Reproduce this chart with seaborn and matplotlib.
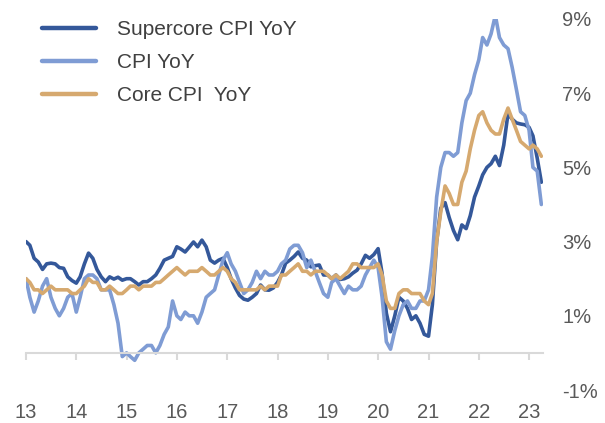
import numpy as np
import pandas as pd
import matplotlib
matplotlib.use('Agg')
import matplotlib.pyplot as plt
import seaborn as sns

# Monthly YoY readings, Feb 2013 .. May 2023
supercore = [3.0, 2.9, 2.55, 2.45, 2.25, 2.4, 2.42, 2.4, 2.3, 2.28, 2.05, 1.95,
             1.88, 2.05, 2.4, 2.69, 2.55, 2.25, 2.05, 1.92, 2.05, 1.99, 2.04, 1.96,
             2.0, 2.0, 1.92, 1.83, 1.92, 1.92, 2.0, 2.1, 2.28, 2.5, 2.55, 2.6,
             2.86, 2.8, 2.72, 2.85, 2.99, 2.86, 3.04, 2.86, 2.5, 2.42, 2.5, 2.55,
             2.3, 2.0, 1.75, 1.55, 1.45, 1.42, 1.5, 1.6, 1.83, 1.7, 1.69, 1.75,
             1.9, 2.1, 2.42, 2.5, 2.6, 2.72, 2.55, 2.5, 2.32, 2.35, 2.37, 2.1,
             2.1, 2.0, 2.1, 1.98, 2.0, 2.05, 2.15, 2.23, 2.4, 2.63, 2.55, 2.65,
             2.81, 2.14, 1.07, 0.57, 1.0, 1.5, 1.4, 1.2, 0.9, 1.0, 0.8, 0.5,
             0.45, 1.3, 3.0, 3.9, 4.05, 3.65, 3.3, 3.05, 3.45, 3.35, 3.7, 4.2,
             4.5, 4.8, 5.0, 5.1, 5.3, 5.05, 5.6, 6.45, 6.3, 6.2, 6.17, 6.15,
             6.08, 5.85, 5.25, 4.6]

cpi = [2.0, 1.5, 1.1, 1.4, 1.8, 2.0, 1.5, 1.2, 1.0, 1.2, 1.5,
       1.6, 1.1, 1.5, 2.0, 2.1, 2.1, 2.0, 1.7, 1.7, 1.7, 1.3, 0.8,
       -0.1, 0.0, -0.1, -0.2, 0.0, 0.1, 0.2, 0.2, 0.0, 0.2, 0.5, 0.7,
       1.4, 1.0, 0.9, 1.1, 1.0, 1.0, 0.8, 1.1, 1.5, 1.6, 1.7, 2.1,
       2.5, 2.7, 2.4, 2.2, 1.9, 1.6, 1.7, 1.9, 2.2, 2.0, 2.2, 2.1,
       2.1, 2.2, 2.4, 2.5, 2.8, 2.9, 2.9, 2.7, 2.3, 2.5, 2.2, 1.9,
       1.6, 1.5, 1.9, 2.0, 1.8, 1.6, 1.8, 1.7, 1.7, 1.8, 2.1, 2.3,
       2.5, 2.3, 1.5, 0.3, 0.1, 0.6, 1.0, 1.3, 1.4, 1.2, 1.2, 1.4,
       1.4, 1.7, 2.6, 4.2, 5.0, 5.4, 5.4, 5.3, 5.4, 6.2, 6.8, 7.0,
       7.5, 7.9, 8.5, 8.3, 8.6, 9.1, 8.5, 8.3, 8.2, 7.7, 7.1, 6.5,
       6.4, 6.0, 5.0, 4.9, 4.0]

core = [2.0, 1.9, 1.7, 1.7, 1.6, 1.7, 1.8, 1.7, 1.7, 1.7, 1.7,
        1.6, 1.6, 1.7, 1.8, 2.0, 1.9, 1.9, 1.7, 1.7, 1.8, 1.7, 1.6,
        1.6, 1.7, 1.8, 1.8, 1.7, 1.8, 1.8, 1.8, 1.9, 1.9, 2.0, 2.1,
        2.2, 2.3, 2.2, 2.1, 2.2, 2.2, 2.2, 2.3, 2.2, 2.1, 2.1, 2.2,
        2.3, 2.2, 2.0, 1.9, 1.7, 1.7, 1.7, 1.7, 1.7, 1.8, 1.7, 1.8,
        1.8, 1.8, 2.1, 2.1, 2.2, 2.3, 2.4, 2.2, 2.2, 2.1, 2.2, 2.2,
        2.2, 2.1, 2.0, 2.1, 2.0, 2.1, 2.2, 2.4, 2.4, 2.3, 2.3, 2.3,
        2.3, 2.4, 2.1, 1.4, 1.2, 1.2, 1.6, 1.7, 1.7, 1.6, 1.6, 1.6,
        1.4, 1.3, 1.6, 3.0, 3.8, 4.5, 4.3, 4.0, 4.0, 4.6, 4.9, 5.5,
        6.0, 6.4, 6.5, 6.2, 6.0, 5.9, 5.9, 6.3, 6.6, 6.3, 6.0, 5.7,
        5.6, 5.5, 5.6, 5.5, 5.3]

series_names = ['Supercore CPI YoY', 'CPI YoY', 'Core CPI  YoY']
colors = ['#34589A', '#7F9CD4', '#D6A96F']
year_labels = ['13', '14', '15', '16', '17', '18', '19', '20', '21', '22', '23']
y_ticks = [-1, 1, 3, 5, 7, 9]

dates = pd.date_range('2013-02-01', periods=len(cpi), freq='MS')
df = pd.concat([
    pd.DataFrame({'date': dates, 'value': vals, 'series': name})
    for name, vals in zip(series_names, [supercore, cpi, core])
])

sns.set_style('white')
plt.rcParams['font.family'] = ['Liberation Sans', 'DejaVu Sans']

fig = plt.figure(figsize=(6.05, 4.23), dpi=100)
ax = fig.add_axes([26 / 605, 1 - 390 / 423, (543 - 26) / 605, (390 - 19) / 423])

sns.lineplot(data=df, x='date', y='value', hue='series', hue_order=series_names,
             palette=dict(zip(series_names, colors)), linewidth=2.6, ax=ax)

ax.set_xlim(dates[0], dates[-1] + pd.Timedelta(days=12))
ax.set_ylim(-1, 9)
ax.set_xlabel('')
ax.set_ylabel('')

# x axis sits at 0%
for s in ['top', 'left', 'right']:
    ax.spines[s].set_visible(False)
ax.spines['bottom'].set_position(('data', 0))
ax.spines['bottom'].set_color('#D9D9D9')
ax.spines['bottom'].set_linewidth(1.5)

tick_dates = pd.date_range('2013-02-01', periods=len(year_labels), freq='12MS')
ax.set_xticks(tick_dates)
ax.set_xticklabels(year_labels)
ax.tick_params(axis='x', bottom=True, direction='out', length=5, width=1.5,
               color='#D9D9D9', pad=31, labelsize=14.5, labelcolor='#595959')

ax.yaxis.tick_right()
ax.set_yticks(y_ticks)
ax.set_yticklabels([f'{v}%' for v in y_ticks])
ax.tick_params(axis='y', length=0, pad=14, labelsize=14.5, labelcolor='#595959')
for lbl in ax.get_yticklabels():
    lbl.set_horizontalalignment('left')

handles, labels = ax.get_legend_handles_labels()
for h in handles:
    h.set_linewidth(3.2)
ax.legend(handles, labels, loc='upper left', bbox_to_anchor=(42 / 605, 1 - 20 / 423),
          bbox_transform=fig.transFigure, frameon=False, fontsize=15,
          handlelength=2.6, handletextpad=1.0, labelspacing=0.68, borderpad=0,
          borderaxespad=0, labelcolor='#404040')

fig.savefig('out.png', dpi=100)
